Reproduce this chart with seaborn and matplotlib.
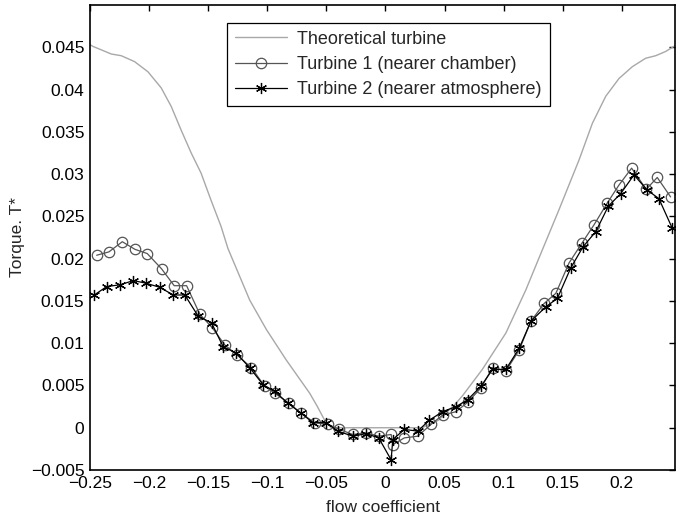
import numpy as np
import pandas as pd
import matplotlib
matplotlib.use("Agg")
import matplotlib.pyplot as plt
import seaborn as sns

# --- datos ---
theo_phi = [-0.25, -0.2475, -0.232, -0.2236, -0.2123, -0.201, -0.1898, -0.1813, -0.1729, -0.1644,
            -0.156, -0.1476, -0.1391, -0.1333, -0.1149, -0.1007, -0.0839, -0.0642, -0.058, -0.0515,
            -0.046, 0.0, 0.031, 0.045, 0.0597, 0.0653, 0.082, 0.1019, 0.1188, 0.130,
            0.1469, 0.1639, 0.1751, 0.1864, 0.1976, 0.2089, 0.2202, 0.2287, 0.2371, 0.2441, 0.245]
theo_T = [0.0453, 0.0451, 0.0442, 0.0440, 0.0433, 0.0421, 0.0402, 0.0380, 0.0352, 0.0325,
          0.0301, 0.0269, 0.0238, 0.0212, 0.0151, 0.0116, 0.0080, 0.0041, 0.0026, 0.0009,
          0.0, 0.0, 0.0, 0.0009, 0.0029, 0.0038, 0.0069, 0.0112, 0.0163, 0.0201,
          0.0258, 0.0317, 0.0360, 0.0392, 0.0413, 0.0427, 0.0437, 0.0440, 0.0445, 0.0451, 0.0452]

t1_phi = [-0.2444, -0.234, -0.2227, -0.212, -0.2016, -0.1895, -0.1788, -0.1683, -0.157, -0.1464,
          -0.136, -0.1256, -0.1134, -0.1022, -0.0938, -0.0817, -0.0712, -0.060, -0.0487, -0.0389,
          -0.0276, -0.0163, -0.0057, 0.0048, 0.0062, 0.016, 0.0273, 0.0386, 0.0484, 0.0597,
          0.0695, 0.0808, 0.0906, 0.1019, 0.1132, 0.1231, 0.1343, 0.1442, 0.1554, 0.1661,
          0.1765, 0.1878, 0.1976, 0.2083, 0.2207, 0.23, 0.2413]
t1_T = [0.0204, 0.0208, 0.0220, 0.0211, 0.0206, 0.0188, 0.0168, 0.0168, 0.0134, 0.0118,
        0.0098, 0.0086, 0.0071, 0.0049, 0.0041, 0.0029, 0.0017, 0.0006, 0.0004, -0.0002,
        -0.0008, -0.0006, -0.0010, -0.0008, -0.0020, -0.0012, -0.0010, 0.0004, 0.0015, 0.0019,
        0.0030, 0.0047, 0.0071, 0.0067, 0.0092, 0.0126, 0.0147, 0.0159, 0.0195, 0.0218,
        0.0240, 0.0266, 0.0287, 0.0307, 0.0282, 0.0296, 0.0273]

t2_phi = [-0.2464, -0.2359, -0.2247, -0.2134, -0.2027, -0.1909, -0.1796, -0.1698, -0.1585, -0.1472,
          -0.1374, -0.1261, -0.1149, -0.1036, -0.0938, -0.0825, -0.0712, -0.0614, -0.0501, -0.0403,
          -0.0276, -0.0163, -0.0057, 0.0048, 0.0062, 0.016, 0.0273, 0.0372, 0.0484, 0.0597,
          0.0695, 0.0808, 0.0906, 0.1019, 0.1132, 0.1231, 0.1357, 0.1455, 0.1568, 0.1672,
          0.178, 0.1886, 0.1991, 0.2103, 0.2216, 0.2314, 0.2427]
t2_T = [0.0157, 0.0167, 0.0169, 0.0174, 0.0171, 0.0166, 0.0157, 0.0157, 0.0132, 0.0124,
        0.0096, 0.0088, 0.0071, 0.0051, 0.0043, 0.0029, 0.0017, 0.0006, 0.0006, -0.0004,
        -0.0010, -0.0007, -0.0012, -0.0038, -0.0014, -0.0002, -0.0004, 0.0009, 0.0019, 0.0025,
        0.0033, 0.0049, 0.0069, 0.0069, 0.0094, 0.0126, 0.0143, 0.0153, 0.0189, 0.0214,
        0.0232, 0.0262, 0.0277, 0.0299, 0.0281, 0.0271, 0.0236]

xticks = [-0.25, -0.2, -0.15, -0.1, -0.05, 0, 0.05, 0.1, 0.15, 0.2]
xtick_labels = ["\u22120.25", "\u22120.2", "\u22120.15", "\u22120.1", "\u22120.05",
                "0", "0.05", "0.1", "0.15", "0.2"]
yticks = [-0.005, 0, 0.005, 0.01, 0.015, 0.02, 0.025, 0.03, 0.035, 0.04, 0.045]
ytick_labels = ["\u22120.005", "0", "0.005", "0.01", "0.015", "0.02", "0.025",
                "0.03", "0.035", "0.04", "0.045"]

# --- estetica ---
sns.set_theme(style="white")
plt.rcParams['font.family'] = ['Liberation Sans', 'DejaVu Sans']
plt.rcParams['font.size'] = 12.5

fig = plt.figure(figsize=(6.77, 5.19), dpi=100)
ax = fig.add_axes([0.133, 0.0944, 0.864, 0.896])

sns.lineplot(x=theo_phi, y=theo_T, ax=ax, sort=False, estimator=None,
             color="#a8a8a8", linewidth=1.0, label="Theoretical turbine")
sns.lineplot(x=t1_phi, y=t1_T, ax=ax, sort=False, estimator=None,
             color="#555555", linewidth=0.9, marker="o", markersize=7.5,
             markerfacecolor="none", markeredgecolor="#555555", markeredgewidth=0.9,
             label="Turbine 1 (nearer chamber)")
sns.lineplot(x=t2_phi, y=t2_T, ax=ax, sort=False, estimator=None,
             color="black", linewidth=0.9, marker=(6, 2, 0), markersize=8,
             markeredgecolor="black", markeredgewidth=0.9,
             label="Turbine 2 (nearer atmosphere)")

ax.set_xlim(-0.25, 0.245)
ax.set_ylim(-0.005, 0.05)
ax.set_xticks(xticks)
ax.set_xticklabels(xtick_labels)
ax.set_yticks(yticks)
ax.set_yticklabels(ytick_labels)
ax.tick_params(direction="in", length=4.5, width=1, top=True, right=True,
               labelsize=12.5, colors="black", pad=4)
for s in ax.spines.values():
    s.set_color("black")
    s.set_linewidth(1.2)

ax.set_xlabel("flow coefficient", fontsize=12.5, labelpad=7)
ax.set_ylabel("Torque. T*", fontsize=12.5, labelpad=4)

leg = ax.legend(loc="upper left", bbox_to_anchor=(0.234, 0.962), borderaxespad=0,
                fancybox=False, framealpha=1, edgecolor="black", fontsize=13,
                handlelength=2.9, borderpad=0.45, labelspacing=0.45, handletextpad=0.55)
leg.get_frame().set_linewidth(0.9)

fig.savefig("out.png", dpi=100)
